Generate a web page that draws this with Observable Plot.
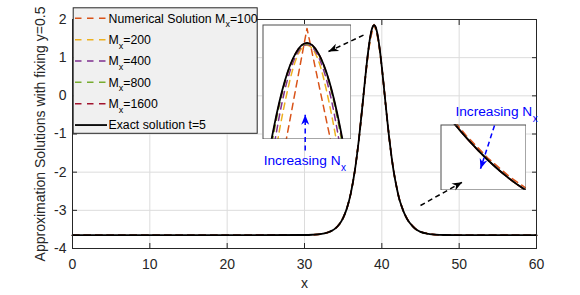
<!DOCTYPE html>
<html><head><meta charset="utf-8">
<script src="https://cdn.jsdelivr.net/npm/d3@7"></script>
<script src="https://cdn.jsdelivr.net/npm/@observablehq/plot@0.6"></script>
<style>
body{margin:0;background:#fff;}
#wrap{position:relative;width:580px;height:295px;overflow:hidden;font-family:"Liberation Sans",Arial,Helvetica,sans-serif;}
#wrap svg{position:absolute;}
</style></head>
<body><div id="wrap"></div>
<script>
// ---- data ----
const xs = [0,10,20,30,31,32,33,33.5,34,34.5,35,35.5,36,36.5,37,37.5,37.75,38,38.25,38.5,38.6,38.7,38.8,38.9,39,39.1,39.2,39.3,39.4,39.5,39.75,40,40.25,40.5,41,41.5,42,42.25,42.5,42.75,43,43.25,43.5,44,44.5,45,46,47,48,50,60];
const exact = [-3.65,-3.65,-3.65,-3.646,-3.640,-3.624,-3.581,-3.539,-3.472,-3.365,-3.197,-2.936,-2.543,-1.973,-1.196,-0.243,0.264,0.754,1.194,1.545,1.652,1.738,1.800,1.837,1.850,1.837,1.800,1.738,1.652,1.545,1.194,0.754,0.264,-0.243,-1.18,-1.94,-2.48,-2.70,-2.86,-3.00,-3.12,-3.22,-3.30,-3.42,-3.51,-3.565,-3.615,-3.638,-3.646,-3.65,-3.65];
const m100 = [-3.65,-3.65,-3.65,-3.646,-3.640,-3.624,-3.581,-3.539,-3.472,-3.365,-3.197,-2.936,-2.543,-1.973,-1.196,-0.243,0.25,0.687,1.13,1.479,1.557,1.635,1.713,1.791,1.869,1.800,1.731,1.661,1.592,1.523,1.18,0.725,0.25,-0.243,-1.18,-1.94,-2.469,-2.689,-2.849,-2.989,-3.109,-3.209,-3.289,-3.412,-3.51,-3.565,-3.615,-3.638,-3.646,-3.65,-3.65];
const m200 = [-3.65,-3.65,-3.65,-3.646,-3.640,-3.624,-3.581,-3.539,-3.472,-3.365,-3.197,-2.936,-2.543,-1.973,-1.196,-0.243,0.264,0.73,1.13,1.46,1.58,1.69,1.771,1.828,1.847,1.828,1.771,1.69,1.58,1.46,1.13,0.73,0.264,-0.243,-1.18,-1.94,-2.48,-2.70,-2.86,-3.00,-3.12,-3.22,-3.30,-3.42,-3.51,-3.565,-3.615,-3.638,-3.646,-3.65,-3.65];
const m400 = [-3.65,-3.65,-3.65,-3.646,-3.640,-3.624,-3.581,-3.539,-3.472,-3.365,-3.197,-2.936,-2.543,-1.973,-1.196,-0.243,0.264,0.74,1.165,1.50,1.615,1.712,1.788,1.833,1.848,1.833,1.788,1.712,1.615,1.50,1.165,0.74,0.264,-0.243,-1.18,-1.94,-2.48,-2.70,-2.86,-3.00,-3.12,-3.22,-3.30,-3.42,-3.51,-3.565,-3.615,-3.638,-3.646,-3.65,-3.65];
const m800 = [-3.65,-3.65,-3.65,-3.646,-3.640,-3.624,-3.581,-3.539,-3.472,-3.365,-3.197,-2.936,-2.543,-1.973,-1.196,-0.243,0.264,0.75,1.185,1.53,1.641,1.731,1.797,1.836,1.849,1.836,1.797,1.731,1.641,1.53,1.185,0.75,0.264,-0.243,-1.18,-1.94,-2.48,-2.70,-2.86,-3.00,-3.12,-3.22,-3.30,-3.42,-3.51,-3.565,-3.615,-3.638,-3.646,-3.65,-3.65];
const m1600 = [-3.65,-3.65,-3.65,-3.646,-3.640,-3.624,-3.581,-3.539,-3.472,-3.365,-3.197,-2.936,-2.543,-1.973,-1.196,-0.243,0.264,0.753,1.192,1.541,1.649,1.736,1.799,1.837,1.850,1.837,1.799,1.736,1.649,1.541,1.192,0.753,0.264,-0.243,-1.18,-1.94,-2.48,-2.70,-2.86,-3.00,-3.12,-3.22,-3.30,-3.42,-3.51,-3.565,-3.615,-3.638,-3.646,-3.65,-3.65];

const seriesNames = ["Numerical Solution M","M","M","M","M"];
const seriesTails = ["=100","=200","=400","=800","=1600"];
const seriesColors = ["#D95319","#EDB120","#7E2F8E","#77AC30","#A2142F"];
const exactLabel = "Exact solution t=5";
const xTicks = [0,10,20,30,40,50,60];
const yTicks = [-4,-3,-2,-1,0,1,2];
const xLabel = "x";
const yLabel = "Approximation Solutions with fixing y=0.5";

// zoom windows of the two insets
const inset1X = [38.6, 39.4], inset1Y = [1.7237, 1.8741];
const inset2X = [42.45, 43.45], inset2Y = [-3.284, -2.929];

// annotation arrows (data units) and notes
const arrowX1 = [37.63, 45.0, 30.09, 54.57];
const arrowY1 = [1.589, -2.873, -1.432, -0.777];
const arrowX2 = [33.10, 50.39, 30.09, 52.76];
const arrowY2 = [1.161, -2.263, -0.497, -1.912];
const arrowColors = ["#000000","#000000","#0000FF","#0000FF"];
const noteText = ["Increasing N","Increasing N"];
const noteSub = ["x","x"];
const noteX = [34.66, 59.45];
const noteY = [-1.825, -0.534];

// ---- layout ----
const W = 580, H = 295, mL = 72, mR = 44, mT = 19, mB = 47;
const FONT = "'Liberation Sans', Arial, Helvetica, sans-serif";
const numSeries = [m100, m200, m400, m800, m1600];
const toRows = vals => xs.map((x, i) => ({x, y: vals[i]}));

function lineMarks(clip) {
  const marks = numSeries.map((vals, s) => Plot.line(toRows(vals), {
    x: "x", y: "y", stroke: seriesColors[s], strokeWidth: 1.5,
    strokeDasharray: "6.5,5", curve: s === 0 ? "linear" : "monotone-x", clip
  }));
  marks.push(Plot.line(toRows(exact), {x: "x", y: "y", stroke: "#000", strokeWidth: 1.8, curve: "monotone-x", clip}));
  return marks;
}

const wrap = document.getElementById("wrap");

const main = Plot.plot({
  width: W, height: H, marginLeft: mL, marginRight: mR, marginTop: mT, marginBottom: mB,
  x: {domain: [0, 60]}, y: {domain: [-4, 2]},
  style: {fontFamily: FONT, fontSize: "14px", color: "#262626", background: "#fff"},
  marks: [
    Plot.gridX(xTicks, {stroke: "#dcdcdc", strokeOpacity: 1}),
    Plot.gridY(yTicks, {stroke: "#dcdcdc", strokeOpacity: 1}),
    ...lineMarks(false),
    Plot.frame({stroke: "#262626", strokeWidth: 1}),
    Plot.axisX(xTicks, {anchor: "bottom", tickSize: -5, tickPadding: 16, tickFormat: d => String(d), label: null, fill: "#262626"}),
    Plot.axisX(xTicks, {anchor: "top", tickSize: -5, tickFormat: () => "", label: null}),
    Plot.axisY(yTicks, {anchor: "left", tickSize: -5, tickPadding: 11, tickFormat: d => String(d), label: null, fill: "#262626"}),
    Plot.axisY(yTicks, {anchor: "right", tickSize: -5, tickFormat: () => "", label: null}),
    Plot.text([yLabel], {frameAnchor: "left", text: d => d, rotate: -90, dx: -31.5, textAnchor: "middle", fontSize: 14, fill: "#262626"}),
    Plot.text([xLabel], {frameAnchor: "bottom", text: d => d, dy: 39.5, textAnchor: "middle", fontSize: 14, fill: "#262626"})
  ]
});
main.style.left = "0px"; main.style.top = "0px";
wrap.appendChild(main);

function inset(xd, yd, w, h, left, top) {
  const p = Plot.plot({
    width: w, height: h, margin: 0, axis: null,
    x: {domain: xd}, y: {domain: yd},
    style: {background: "#fff"},
    marks: [...lineMarks(true), Plot.frame({stroke: "#4d4d4d", strokeWidth: 1, inset: 0.5})]
  });
  p.style.left = left + "px"; p.style.top = top + "px";
  wrap.appendChild(p);
}
inset(inset1X, inset1Y, 89, 115, 262, 24);
inset(inset2X, inset2Y, 86, 66, 440, 124);

// ---- overlay: arrows and notes ----
const sx = (W - mL - mR) / 60, sy = (H - mT - mB) / 6;
const arrows = arrowX1.map((x1, i) => ({x1, y1: arrowY1[i], x2: arrowX2[i], y2: arrowY2[i], color: arrowColors[i],
  rot: Math.atan2((arrowX2[i] - x1) * sx, (arrowY2[i] - arrowY1[i]) * sy) * 180 / Math.PI}));
const notes = noteText.map((t, i) => ({t, s: noteSub[i], x: noteX[i], y: noteY[i]}));
const headShape = {
  draw(ctx, l) {
    ctx.moveTo(0, -l);
    ctx.lineTo(-l * 0.4, 0);
    ctx.lineTo(0, -l * 0.3);
    ctx.lineTo(l * 0.4, 0);
    ctx.closePath();
  }
};
const overlayMarks = [];
arrows.forEach(a => {
  overlayMarks.push(Plot.link([a], {x1: "x1", y1: "y1", x2: "x2", y2: "y2", stroke: a.color, strokeWidth: 1.5, strokeDasharray: "5,3.5"}));
  try {
    overlayMarks.push(Plot.vector([a], {x: "x2", y: "y2", rotate: "rot", length: 10, anchor: "end", shape: headShape, fill: a.color, stroke: "none"}));
  } catch (e) {
    overlayMarks.push(Plot.arrow([a], {x1: "x1", y1: "y1", x2: "x2", y2: "y2", stroke: a.color, strokeWidth: 1.5, headLength: 8}));
  }
});
overlayMarks.push(Plot.text(notes, {x: "x", y: "y", text: "t", textAnchor: "end", lineAnchor: "bottom", fontSize: 13.7, fill: "#0000FF"}));
overlayMarks.push(Plot.text(notes, {x: "x", y: "y", text: "s", textAnchor: "start", lineAnchor: "bottom", dx: 0.5, dy: 5.5, fontSize: 10, fill: "#0000FF"}));

const overlay = Plot.plot({
  width: W, height: H, marginLeft: mL, marginRight: mR, marginTop: mT, marginBottom: mB,
  axis: null, x: {domain: [0, 60]}, y: {domain: [-4, 2]},
  style: {fontFamily: FONT, background: "transparent", overflow: "visible"},
  marks: overlayMarks
});
overlay.style.left = "0px"; overlay.style.top = "0px";
wrap.appendChild(overlay);

// ---- legend ----
const leg = d3.create("svg").attr("width", W).attr("height", H)
  .style("left", "0px").style("top", "0px").style("font-family", FONT);
leg.append("rect").attr("x", 73.2).attr("y", 7.8).attr("width", 184).attr("height", 125.5)
  .attr("fill", "#f0f0f0").attr("stroke", "#262626").attr("stroke-width", 1);
const rowY = i => 18.3 + i * 21.35;
seriesNames.forEach((name, i) => {
  const cy = rowY(i);
  leg.append("line").attr("x1", 75).attr("x2", 107).attr("y1", cy).attr("y2", cy)
    .attr("stroke", seriesColors[i]).attr("stroke-width", 1.5).attr("stroke-dasharray", "6.5,5.5");
  const t = leg.append("text").attr("x", 108.5).attr("y", cy + 4.4).attr("font-size", 12.3).attr("fill", "#000");
  t.append("tspan").text(name);
  t.append("tspan").attr("font-size", 9).attr("dy", 4.5).text("x");
  t.append("tspan").attr("dy", -4.5).text(seriesTails[i]);
});
{
  const cy = rowY(5);
  leg.append("line").attr("x1", 75).attr("x2", 107).attr("y1", cy).attr("y2", cy)
    .attr("stroke", "#000").attr("stroke-width", 1.8);
  leg.append("text").attr("x", 108.5).attr("y", cy + 4.4).attr("font-size", 12.3).attr("fill", "#000").text(exactLabel);
}
wrap.appendChild(leg.node());
</script>
</body></html>
